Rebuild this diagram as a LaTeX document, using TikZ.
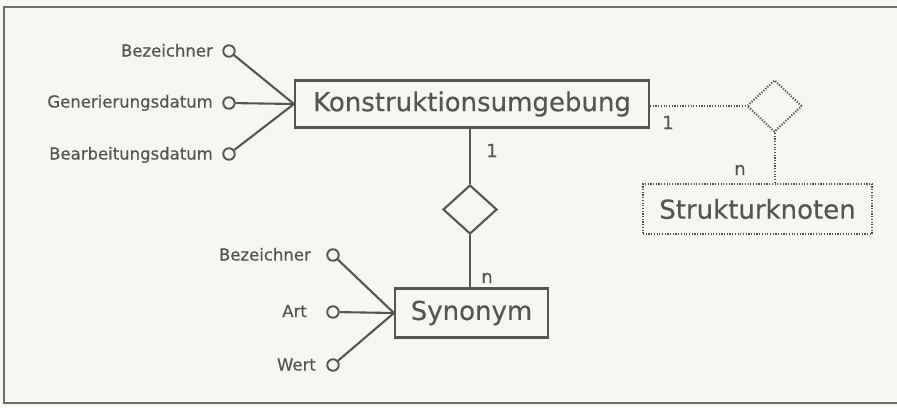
\documentclass[tikz,border=0pt]{standalone}
\usepackage{fontspec}
\setmainfont{DejaVu Sans}
\newfontfamily\namefont{DejaVu Sans}[FakeBold=0.35]
\newfontfamily\smallfont{DejaVu Sans}[FakeBold=0.6]
\usetikzlibrary{shapes.geometric}

\definecolor{ink}{HTML}{555555}
\definecolor{paper}{HTML}{F7F7F1}
\definecolor{framecol}{HTML}{6E6E6E}

\begin{document}
\begin{tikzpicture}[x=1pt,y=-1pt,
  entity/.style={rectangle, draw=ink, line width=2.1pt, inner sep=0pt,
    text=ink, font=\namefont\fontsize{26}{30}\selectfont},
  weakentity/.style={entity, line width=2pt, dash pattern=on 1.2pt off 1.5pt},
  relation/.style={diamond, draw=ink, line width=2.1pt, inner sep=0pt,
    minimum width=54pt, minimum height=49pt},
  weakrelation/.style={relation, line width=2pt, dash pattern=on 1.2pt off 1.5pt},
  attr/.style={circle, draw=ink, line width=1.9pt, minimum size=11.5pt, inner sep=0pt},
  attrname/.style={anchor=base east, inner sep=0pt, text=ink,
    font=\smallfont\fontsize{16.5}{18}\selectfont},
  card/.style={anchor=base, inner sep=0pt, text=ink, font=\smallfont\fontsize{18}{20}\selectfont},
  link/.style={draw=ink, line width=2.1pt},
  weaklink/.style={draw=ink, line width=2pt, dash pattern=on 1.2pt off 1.5pt},
]
\useasboundingbox (0,0) rectangle (897,407);
\fill[paper] (0,0) rectangle (897,407);

% frame, open on the right
\draw[framecol, line width=2.6pt] (897,7) -- (4,7) -- (4,403) -- (897,403);

% entities
\node[entity, minimum width=354pt, minimum height=47pt] (konst) at (472,104) {Konstruktionsumgebung};
\node[entity, minimum width=153pt, minimum height=49pt] (syn) at (471.5,313) {Synonym};
\node[weakentity, minimum width=229pt, minimum height=50pt] (struk) at (757.5,209) {Strukturknoten};

% relationships
\node[relation] (rel) at (470,209.5) {};
\node[weakrelation, minimum width=55pt, minimum height=52pt] (wrel) at (774.5,106) {};

\draw[link] (konst.south -| rel.north) -- (rel.north);
\draw[link] (rel.south) -- (syn.north -| rel.south);
\draw[weaklink] (konst.east |- wrel.west) -- (wrel.west);
\draw[weaklink] (wrel.south) -- (struk.north -| wrel.south);

% cardinalities
\node[card] (c1) at (492,157) {1};
\node[card] (c2) at (487,283) {n};
\node[card] (c3) at (668,129) {1};
\node[card] (c4) at (740,175) {n};

% attributes of Konstruktionsumgebung
\node[attr] (k1) at (229,51) {};
\node[attr] (k2) at (229,103) {};
\node[attr] (k3) at (229,154) {};
\node[attrname] (k1t) at (213,56.5) {Bezeichner};
\node[attrname] (k2t) at (213,107.5) {Generierungsdatum};
\node[attrname] (k3t) at (213,159.5) {Bearbeitungsdatum};
\draw[link] (k1) -- (konst.west);
\draw[link] (k2) -- (konst.west);
\draw[link] (k3) -- (konst.west);

% attributes of Synonym
\node[attr] (s1) at (333,255) {};
\node[attr] (s2) at (333,312) {};
\node[attr] (s3) at (333,365) {};
\node[attrname] (s1t) at (311,260.5) {Bezeichner};
\node[attrname] (s2t) at (307,317) {Art};
\node[attrname] (s3t) at (316,370.5) {Wert};
\draw[link] (s1) -- (syn.west);
\draw[link] (s2) -- (syn.west);
\draw[link] (s3) -- (syn.west);
\end{tikzpicture}
\end{document}
